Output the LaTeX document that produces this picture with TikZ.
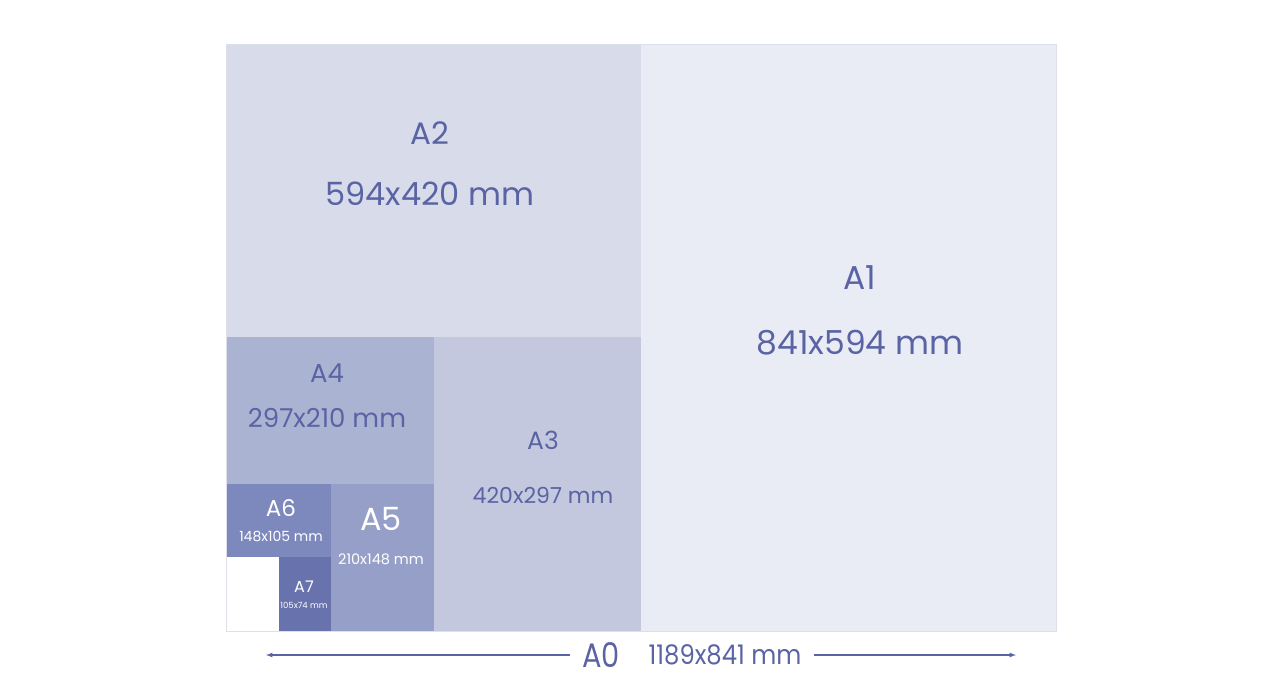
\documentclass[tikz,border=0pt]{standalone}
\usepackage{fontspec}
\setmainfont{Poppins}
\usepackage{tikz}
\usetikzlibrary{arrows}

\definecolor{sheetA1}{HTML}{E9ECF5}
\definecolor{sheetA2}{HTML}{D8DBEA}
\definecolor{sheetA3}{HTML}{C3C8DF}
\definecolor{sheetA4}{HTML}{ABB3D2}
\definecolor{sheetA5}{HTML}{959FC8}
\definecolor{sheetA6}{HTML}{7D88BD}
\definecolor{sheetA7}{HTML}{6872AC}
\definecolor{ink}{HTML}{5A63A3}
\definecolor{rim}{HTML}{DDE0EA}

\begin{document}
\begin{tikzpicture}
		[x=1pt,y=-1pt,
		 lbl/.style= {text=ink,inner sep=0pt},
		 wlbl/.style= {text=white,inner sep=0pt},
		 size/.style= {font=\fontsize{#1}{#1}\selectfont}]

		\useasboundingbox (0,0) rectangle (1280,691);

		% sheets, largest first
		\fill[sheetA1] (641,44) rectangle (1056,631);
		\fill[sheetA2] (226,44) rectangle (641,337);
		\fill[sheetA3] (434,337) rectangle (641,631);
		\fill[sheetA4] (226,337) rectangle (434,484);
		\fill[sheetA5] (331,484) rectangle (434,631);
		\fill[sheetA6] (226,484) rectangle (331,557);
		\fill[sheetA7] (279,557) rectangle (331,631);
		\fill[white] (226,557) rectangle (279,631);
		\draw[rim,line width=1pt] (226,44) rectangle (1056,631);

		\node[lbl,size=31] (a2) at (430,133) {A2}
		;
		\node[lbl,size=32] (a2s) at (430,194) {594x420 mm}
		;

		\node[lbl,size=33] (a1) at (860,278) {A1}
		;
		\node[lbl,size=33] (a1s) at (860,343) {841x594 mm}
		;

		\node[lbl,size=26] (a4) at (327,373) {A4}
		;
		\node[lbl,size=26] (a4s) at (327,418) {297x210 mm}
		;

		\node[lbl,size=25] (a3) at (543,440) {A3}
		;
		\node[lbl,size=22] (a3s) at (543,495) {420x297 mm}
		;

		\node[wlbl,size=23] (a6) at (281,508) {A6}
		;
		\node[wlbl,size=14] (a6s) at (281,536) {148x105 mm}
		;

		\node[wlbl,size=32] (a5) at (381,519) {A5}
		;
		\node[wlbl,size=14.5] (a5s) at (381,559) {210x148 mm}
		;

		\node[wlbl,size=16] (a7) at (304,587) {A7}
		;
		\node[wlbl,size=8.5] (a7s) at (304,605) {105x74 mm}
		;

		% whole sheet width
		\coordinate (left) at (266,655);
		\coordinate (right) at (1016,655);

		\node[lbl,size=34,xscale=0.85] (a0) at (601,655) {A0}
		;
		\node[lbl,size=27,xscale=0.9] (a0s) at (725,655) {1189x841 mm}
		;

		\draw[ink,line width=1.2pt,-latex] (a0.west) ++(-12,0) -- (left);
		\draw[ink,line width=1.2pt,-latex] (a0s.east) ++(12,0) -- (right);

	\end{tikzpicture}
\end{document}
